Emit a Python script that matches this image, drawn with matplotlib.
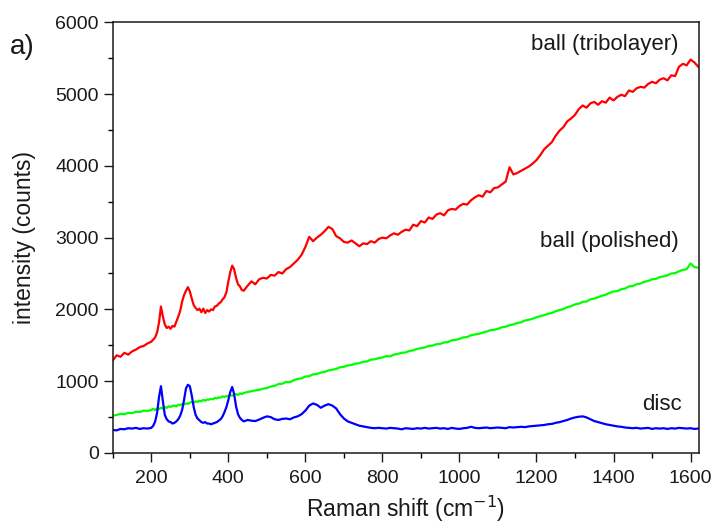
import numpy as np
import matplotlib
matplotlib.use("Agg")
import matplotlib.pyplot as plt
from matplotlib.ticker import MultipleLocator

plt.rcParams['font.family'] = ['Liberation Sans', 'DejaVu Sans']

# Raman shift sampling grid (cm^-1)
shift = np.concatenate([np.arange(100, 200, 10), np.arange(200, 445, 5), np.arange(450, 1630, 10)])

tribolayer = [
    1290, 1360, 1340, 1395, 1370, 1415, 1440, 1475, 1490, 1525,
    # 200..440 step 5
    1550, 1580, 1610, 1680, 1820, 2040, 1900, 1790, 1740, 1760,
    1730, 1770, 1760, 1830, 1900, 1980, 2110, 2200, 2260, 2310,
    2250, 2150, 2060, 2020, 1990, 2010, 1960, 2010, 1950, 1990,
    1970, 2000, 1990, 2040, 2050, 2080, 2100, 2140, 2170, 2240,
    2390, 2520, 2610, 2560, 2440, 2350, 2320, 2270, 2260,
    # 450..1620 step 10
    2330, 2390, 2350, 2420, 2440, 2430, 2480, 2470, 2520, 2500,
    2560, 2590, 2640, 2690, 2760, 2870, 3010, 2950, 3000, 3040,
    3090, 3150, 3120, 3020, 2990, 2940, 2930, 2960, 2920, 2880,
    2920, 2910, 2950, 2930, 2980, 3000, 2990, 3030, 3060, 3040,
    3080, 3110, 3100, 3180, 3160, 3230, 3210, 3280, 3260, 3320,
    3340, 3310, 3380, 3400, 3390, 3440, 3470, 3460, 3520, 3560,
    3590, 3570, 3650, 3630, 3690, 3700, 3740, 3780, 3980, 3880,
    3900, 3930, 3960, 3990, 4030, 4080, 4150, 4230, 4280, 4330,
    4420, 4490, 4540, 4620, 4660, 4710, 4790, 4840, 4810, 4870,
    4890, 4850, 4900, 4880, 4950, 4910, 4960, 4990, 4970, 5050,
    5030, 5080, 5100, 5090, 5140, 5170, 5150, 5200, 5220, 5190,
    5260, 5250, 5380, 5420, 5400, 5480, 5440, 5380,
]

polished = [
    520, 530, 545, 540, 560, 555, 575, 570, 590, 585,
    # 200..440 step 5
    600, 615, 598, 620, 612, 630, 618, 640, 628, 650,
    642, 655, 660, 648, 672, 668, 680, 676, 690, 684,
    700, 712, 698, 720, 712, 728, 720, 740, 728, 745,
    742, 755, 748, 768, 760, 775, 770, 790, 778, 795,
    790, 805, 798, 812, 820, 808, 830, 822, 835,
    # 450..1620 step 10
    850, 860, 872, 880, 895, 905, 925, 935, 960, 965,
    990, 985, 1015, 1030, 1040, 1065, 1070, 1095, 1100, 1120,
    1130, 1150, 1160, 1170, 1195, 1200, 1220, 1225, 1245, 1250,
    1270, 1275, 1300, 1305, 1320, 1330, 1350, 1345, 1370, 1380,
    1395, 1400, 1420, 1430, 1450, 1460, 1470, 1490, 1495, 1515,
    1520, 1540, 1545, 1570, 1575, 1590, 1610, 1615, 1640, 1650,
    1660, 1675, 1690, 1710, 1715, 1730, 1750, 1760, 1780, 1790,
    1810, 1820, 1845, 1855, 1870, 1890, 1905, 1920, 1940, 1950,
    1975, 1990, 2005, 2030, 2045, 2070, 2080, 2105, 2110, 2140,
    2150, 2170, 2190, 2205, 2230, 2250, 2255, 2280, 2290, 2320,
    2325, 2350, 2360, 2385, 2395, 2420, 2425, 2450, 2460, 2475,
    2500, 2505, 2530, 2550, 2560, 2640, 2590, 2580,
]

disc = [
    320, 315, 335, 330, 345, 340, 350, 335, 345, 340,
    # 200..440 step 5
    350, 380, 440, 560, 780, 930, 720, 530, 470, 440,
    430, 410, 420, 440, 470, 520, 600, 740, 900, 950,
    930, 800, 640, 530, 480, 455, 430, 420, 430, 410,
    410, 400, 410, 420, 430, 450, 470, 510, 570, 640,
    740, 850, 920, 820, 650, 540, 490, 460, 440,
    # 450..1620 step 10
    460, 450, 445, 465, 490, 510, 500, 470, 460, 475,
    480, 470, 495, 510, 540, 590, 660, 690, 670, 630,
    660, 680, 660, 620, 540, 480, 440, 420, 400, 380,
    370, 360, 350, 345, 350, 345, 340, 350, 345, 340,
    330, 345, 340, 335, 345, 340, 350, 340, 345, 350,
    340, 345, 335, 350, 340, 335, 345, 350, 365, 350,
    345, 350, 355, 345, 350, 355, 350, 345, 360, 355,
    360, 365, 360, 370, 375, 380, 385, 390, 400, 405,
    420, 430, 445, 460, 480, 495, 505, 510, 495, 470,
    445, 430, 415, 400, 390, 380, 370, 365, 355, 350,
    345, 350, 340, 345, 350, 335, 345, 340, 345, 335,
    345, 340, 350, 345, 340, 345, 335, 340,
]

labels = ["ball (tribolayer)", "ball (polished)", "disc"]

fig = plt.figure(figsize=(7.14, 5.29), dpi=100)
ax = fig.add_axes([0.158, 0.1437, 0.821, 0.8143])

ax.plot(shift, tribolayer, color='#FF0000', lw=1.6)
ax.plot(shift, polished, color='#00FF00', lw=1.6)
ax.plot(shift, disc, color='#0000FF', lw=1.6)

ax.set_xlim(100, 1622)
ax.set_ylim(0, 6000)
ax.xaxis.set_major_locator(MultipleLocator(200))
ax.xaxis.set_minor_locator(MultipleLocator(100))
ax.yaxis.set_major_locator(MultipleLocator(1000))
ax.yaxis.set_minor_locator(MultipleLocator(500))
ax.tick_params(which='major', direction='out', length=6.5, width=1.0, labelsize=14, colors='#1a1a1a', labelcolor='#1a1a1a')
ax.tick_params(which='minor', direction='out', length=3.6, width=1.0)
ax.tick_params(axis='x', which='major', pad=6)
for s in ax.spines.values():
    s.set_linewidth(1.1)
    s.set_color('#1a1a1a')

ax.set_xlabel('Raman shift (cm$^{-1}$)', fontsize=16.5, color='#1a1a1a', labelpad=5)
ax.set_ylabel('intensity (counts)', fontsize=16.5, color='#1a1a1a', labelpad=14)

ax.text(1569, 5684, labels[0], ha='right', va='center', fontsize=16, color='#1a1a1a')
ax.text(1569, 2940, labels[1], ha='right', va='center', fontsize=16, color='#1a1a1a')
ax.text(1577, 673, labels[2], ha='right', va='center', fontsize=16, color='#1a1a1a')
fig.text(0.014, 0.912, 'a)', fontsize=20, color='#1a1a1a', ha='left', va='center')

fig.savefig('out.png', dpi=100)
